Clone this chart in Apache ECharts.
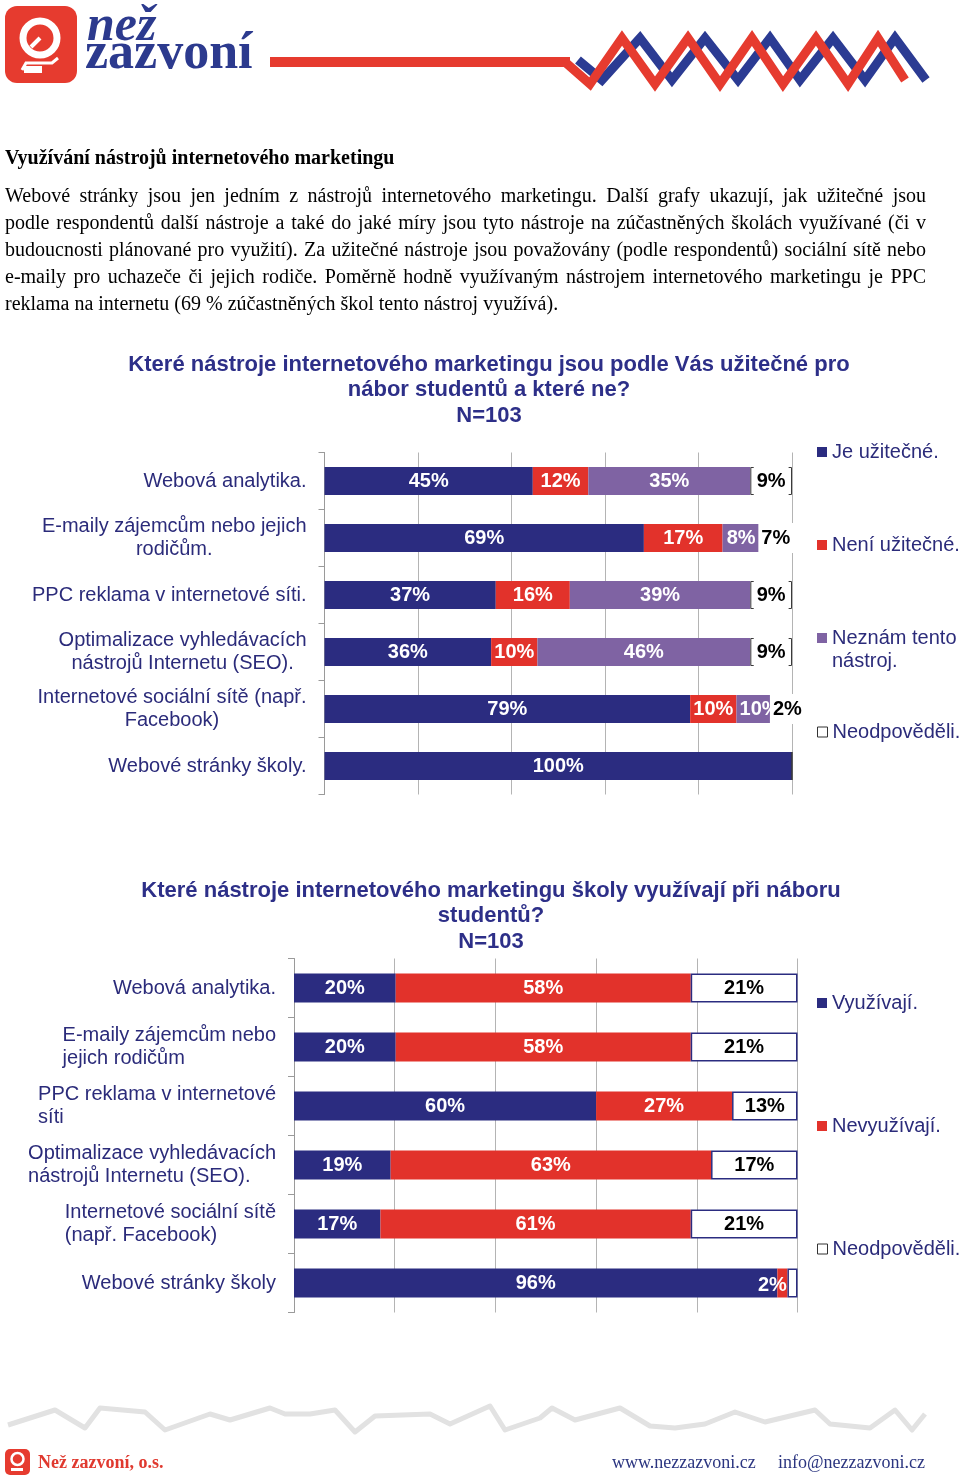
<!DOCTYPE html>
<html><head><meta charset="utf-8">
<script src="https://cdn.jsdelivr.net/npm/echarts@6/dist/echarts.min.js"></script>
<style>html,body{margin:0;padding:0;background:#fff}#c{width:960px;height:1479px}</style>
</head><body><div id="c"></div>
<script>
// ---------- DATA ----------
const categories1 = [
  'Webová analytika.',
  'E-maily zájemcům nebo jejich\nrodičům.',
  'PPC reklama v internetové síti.',
  'Optimalizace vyhledávacích\nnástrojů Internetu (SEO).',
  'Internetové sociální sítě (např.\nFacebook)',
  'Webové stránky školy.'
];
const useful      = [45, 69, 37, 36, 79, 100];
const notUseful   = [12, 17, 16, 10, 10, 0];
const unknownTool = [35, 8, 39, 46, 10, 0];
const noAnswer1   = [9, 7, 9, 9, 2, 0];

const categories2 = [
  'Webová analytika.',
  'E-maily zájemcům nebo\njejich rodičům',
  'PPC reklama v internetové\nsíti',
  'Optimalizace vyhledávacích\nnástrojů Internetu (SEO).',
  'Internetové sociální sítě\n(např. Facebook)',
  'Webové stránky školy'
];
const used      = [20, 20, 60, 19, 17, 96];
const notUsed   = [58, 58, 27, 63, 61, 2];
const noAnswer2 = [21, 21, 13, 17, 21, 2];

const seriesNames1 = ['Je užitečné.', 'Není užitečné.', 'Neznám tento\nnástroj.', 'Neodpověděli.'];
const seriesNames2 = ['Využívají.', 'Nevyužívají.', 'Neodpověděli. '];

const title1 = 'Které nástroje internetového marketingu jsou podle Vás užitečné pro\nnábor studentů a které ne?\nN=103';
const title2 = 'Které nástroje internetového marketingu školy využívají při náboru\nstudentů?\nN=103';

const heading = 'Využívání nástrojů internetového marketingu';
const paragraph = [
  'Webové stránky jsou jen jedním z nástrojů internetového marketingu. Další grafy ukazují, jak užitečné jsou',
  'podle respondentů další nástroje a také do jaké míry jsou tyto nástroje na zúčastněných školách využívané (či v',
  'budoucnosti plánované pro využití). Za užitečné nástroje jsou považovány (podle respondentů) sociální sítě nebo',
  'e-maily pro uchazeče či jejich rodiče. Poměrně hodně využívaným nástrojem internetového marketingu je PPC',
  'reklama na internetu (69 % zúčastněných škol tento nástroj využívá).'
];

// ---------- STYLE ----------
const NAVY = '#2b2c80', RED = '#e2322b', PURPLE = '#7f63a3', TEXT = '#2b2b7a', TITLE = '#2d2f88';
const SANS = '"Liberation Sans", Arial, sans-serif';
const SERIF = '"Liberation Serif", "Times New Roman", serif';

const chart = echarts.init(document.getElementById('c'));

function totals(arrs) { return arrs[0].map((_, i) => arrs.reduce((s, a) => s + a[i], 0)); }
const tot1 = totals([useful, notUseful, unknownTool, noAnswer1]);
const tot2 = totals([used, notUsed, noAnswer2]);

const labelBase = { show: true, position: 'inside', fontSize: 20, fontWeight: 'bold', fontFamily: SANS, color: '#fff' };

function makeSeries(name, raw, tot, idx, stack, color, barW, extra, itemFn) {
  return Object.assign({
    name, type: 'bar', stack, xAxisIndex: idx, yAxisIndex: idx, barWidth: barW,
    itemStyle: { color },
    label: Object.assign({}, labelBase, { formatter: p => raw[p.dataIndex] + '%' }),
    data: raw.map((v, i) => {
      const d = { value: v / tot[i] * 100, label: { show: v > 0 } };
      if (itemFn) itemFn(d, v, i);
      return d;
    }),
    animation: false
  }, extra || {});
}

const series = [
  makeSeries(seriesNames1[0], useful, tot1, 0, 'a', NAVY, 28),
  makeSeries(seriesNames1[1], notUseful, tot1, 0, 'a', RED, 28),
  makeSeries(seriesNames1[2], unknownTool, tot1, 0, 'a', PURPLE, 28),
  makeSeries(seriesNames1[3], noAnswer1, tot1, 0, 'a', '#fff', 28, {
    itemStyle: { color: '#fff', borderColor: '#3a3a3a', borderWidth: 1 },
    label: Object.assign({}, labelBase, { color: '#000', backgroundColor: '#fff', padding: [5, 3], formatter: p => noAnswer1[p.dataIndex] + '%' })
  }),
  makeSeries(seriesNames2[0], used, tot2, 1, 'b', NAVY, 29),
  makeSeries(seriesNames2[1], notUsed, tot2, 1, 'b', RED, 29, null, (d, v) => { if (v < 5) d.label.offset = [-10, 2]; }),
  makeSeries(seriesNames2[2], noAnswer2, tot2, 1, 'b', '#fff', 29, {
    itemStyle: { color: '#fff', borderColor: NAVY, borderWidth: 1.5 },
    label: Object.assign({}, labelBase, { color: '#000', formatter: p => noAnswer2[p.dataIndex] + '%' })
  }, (d, v) => { if (v < 5) d.label.show = false; })
];

function catAxis(idx, cats, tokenAlign) {
  return {
    type: 'category', gridIndex: idx, data: cats, inverse: true,
    axisLine: { show: true, lineStyle: { color: '#9a9a9a', width: 1 } },
    axisTick: { show: true, length: 6, lineStyle: { color: '#9a9a9a' } },
    axisLabel: {
      margin: 18, fontSize: 20, fontFamily: SANS, color: TEXT, lineHeight: 23,
      formatter: v => v.split('\n').map(l => '{t|' + l + '}').join('\n'),
      rich: { t: { align: tokenAlign, fontSize: 20, fontFamily: SANS, color: TEXT, lineHeight: 23 } }
    }
  };
}
function valAxis(idx) {
  return {
    type: 'value', gridIndex: idx, min: 0, max: 100, interval: 20,
    axisLabel: { show: false }, axisLine: { show: false }, axisTick: { show: false },
    splitLine: { show: true, lineStyle: { color: '#b4b4b4', width: 1 } }
  };
}

const legendCommon = {
  orient: 'vertical', icon: 'rect', itemWidth: 10, itemHeight: 10, itemGap: 0, padding: 0,
  selectedMode: false, left: 817,
  textStyle: { fontSize: 20, fontFamily: SANS, color: TEXT, lineHeight: 23 }
};
function leg(name, top, color, border, fmt) {
  const it = { color: color };
  if (border) { it.borderColor = border; it.borderWidth = 1; }
  return Object.assign({}, legendCommon, { top, data: [{ name, itemStyle: it }], formatter: fmt || (n => n.trim()) });
}
const legends = [
  leg(seriesNames1[0], 440.5, NAVY),
  leg(seriesNames1[1], 533.5, RED),
  // leading blank line keeps the marker level with the first text line
  leg(seriesNames1[2], 603.5, PURPLE, null, n => ' \n' + n),
  leg(seriesNames1[3], 720.5, '#fff', '#333'),
  leg(seriesNames2[0], 991.5, NAVY),
  leg(seriesNames2[1], 1114.5, RED),
  leg(seriesNames2[2], 1237.5, '#fff', '#333')
];

// ---------- GRAPHICS (header, text, footer) ----------
const g = [];
const VA = { verticalAlign: 'middle', textVerticalAlign: 'middle' };
// logo
g.push({ type: 'rect', shape: { x: 5, y: 6, width: 72, height: 77, r: 12 }, style: { fill: '#e63b2f' } });
g.push({ type: 'circle', shape: { cx: 40, cy: 38, r: 17 }, style: { fill: 'none', stroke: '#fff', lineWidth: 7 } });
g.push({ type: 'line', shape: { x1: 40, y1: 38, x2: 31, y2: 47 }, style: { stroke: '#fff', lineWidth: 4 } });
g.push({ type: 'polyline', shape: { points: [[22, 70], [26, 63], [52, 63], [58, 58]] }, style: { stroke: '#fff', lineWidth: 3, fill: 'none' } });
g.push({ type: 'rect', shape: { x: 24, y: 66, width: 18, height: 7 }, style: { fill: '#fff' } });
g.push({ type: 'text', x: 87, y: 27, style: Object.assign({ text: 'než', font: 'italic bold 50px ' + SERIF, fill: '#2c3a8e' }, VA) });
g.push({ type: 'text', x: 85, y: 55, style: Object.assign({ text: 'zazvoní', font: 'bold 52px ' + SERIF, fill: '#2c3a8e' }, VA) });
g.push({ type: 'rect', shape: { x: 270, y: 57, width: 300, height: 10 }, style: { fill: '#e63b2f' } });
g.push({ type: 'polyline', shape: { points: [[578, 60], [602, 80], [640, 38], [672, 80], [705, 38], [738, 80], [770, 38], [800, 80], [833, 38], [865, 80], [895, 38], [926, 80]] }, style: { stroke: '#2b3b93', lineWidth: 9, fill: 'none' } });
g.push({ type: 'polyline', shape: { points: [[565, 62], [590, 84], [622, 38], [655, 84], [688, 38], [720, 84], [752, 38], [783, 84], [816, 38], [848, 84], [878, 38], [905, 80]] }, style: { stroke: '#e63b2f', lineWidth: 9, fill: 'none' } });

// heading + justified paragraph
const measure = document.createElement('canvas').getContext('2d');
g.push({ type: 'text', x: 5, y: 159, style: Object.assign({ text: heading, font: 'bold 20px ' + SERIF, fill: '#000' }, VA) });
const pFont = '20px ' + SERIF;
measure.font = pFont;
const lineYs = [197, 224, 251, 278, 305];
paragraph.forEach((line, li) => {
  const y = lineYs[li];
  if (li === paragraph.length - 1) {
    g.push({ type: 'text', x: 5, y, style: Object.assign({ text: line, font: pFont, fill: '#000' }, VA) });
    return;
  }
  const words = line.split(' ');
  const ws = words.map(w => measure.measureText(w).width);
  const total = ws.reduce((a, b) => a + b, 0);
  const gap = (921 - total) / (words.length - 1);
  let x = 5;
  words.forEach((w, i) => {
    g.push({ type: 'text', x, y, style: Object.assign({ text: w, font: pFont, fill: '#000' }, VA) });
    x += ws[i] + gap;
  });
});

// footer
g.push({ type: 'polyline', shape: { points: [[8,1425],[55,1410],[85,1428],[100,1408],[145,1412],[165,1430],[210,1414],[230,1420],[270,1408],[285,1414],[310,1414],[335,1410],[355,1432],[375,1416],[430,1414],[450,1424],[490,1406],[505,1430],[540,1418],[552,1408],[575,1420],[620,1408],[650,1426],[675,1428],[705,1424],[735,1412],[765,1422],[815,1410],[830,1424],[870,1428],[895,1410],[912,1430],[925,1414]] }, style: { stroke: '#e2e2e2', lineWidth: 5, fill: 'none', lineJoin: 'round' } });
g.push({ type: 'rect', shape: { x: 5, y: 1449, width: 25, height: 26, r: 5 }, style: { fill: '#e63b2f' } });
g.push({ type: 'circle', shape: { cx: 17.5, cy: 1459, r: 6 }, style: { fill: 'none', stroke: '#fff', lineWidth: 2.5 } });
g.push({ type: 'rect', shape: { x: 11, y: 1468, width: 12, height: 3 }, style: { fill: '#fff' } });
g.push({ type: 'text', x: 38, y: 1463, style: Object.assign({ text: 'Než zazvoní, o.s.', font: 'bold 18px ' + SERIF, fill: '#e0392f' }, VA) });
g.push({ type: 'text', x: 612, y: 1463, style: Object.assign({ text: 'www.nezzazvoni.cz', font: '18px ' + SERIF, fill: '#2b3580' }, VA) });
g.push({ type: 'text', x: 778, y: 1463, style: Object.assign({ text: 'info@nezzazvoni.cz', font: '18px ' + SERIF, fill: '#2b3580' }, VA) });

const titleStyle = { fontSize: 22, fontWeight: 'bold', fontFamily: SANS, color: TITLE, lineHeight: 25.5 };

chart.setOption({
  backgroundColor: '#fff',
  animation: false,
  title: [
    { text: title1, left: 489, top: 352, textAlign: 'center', padding: 0, textStyle: titleStyle },
    { text: title2, left: 491, top: 878, textAlign: 'center', padding: 0, textStyle: titleStyle }
  ],
  legend: legends,
  grid: [
    { left: 324.5, top: 452.5, width: 467.5, height: 342, containLabel: false },
    { left: 294, top: 958.5, width: 503.5, height: 354, containLabel: false }
  ],
  xAxis: [valAxis(0), valAxis(1)],
  yAxis: [catAxis(0, categories1, 'center'), catAxis(1, categories2, 'left')],
  series,
  graphic: g
});
</script></body></html>
